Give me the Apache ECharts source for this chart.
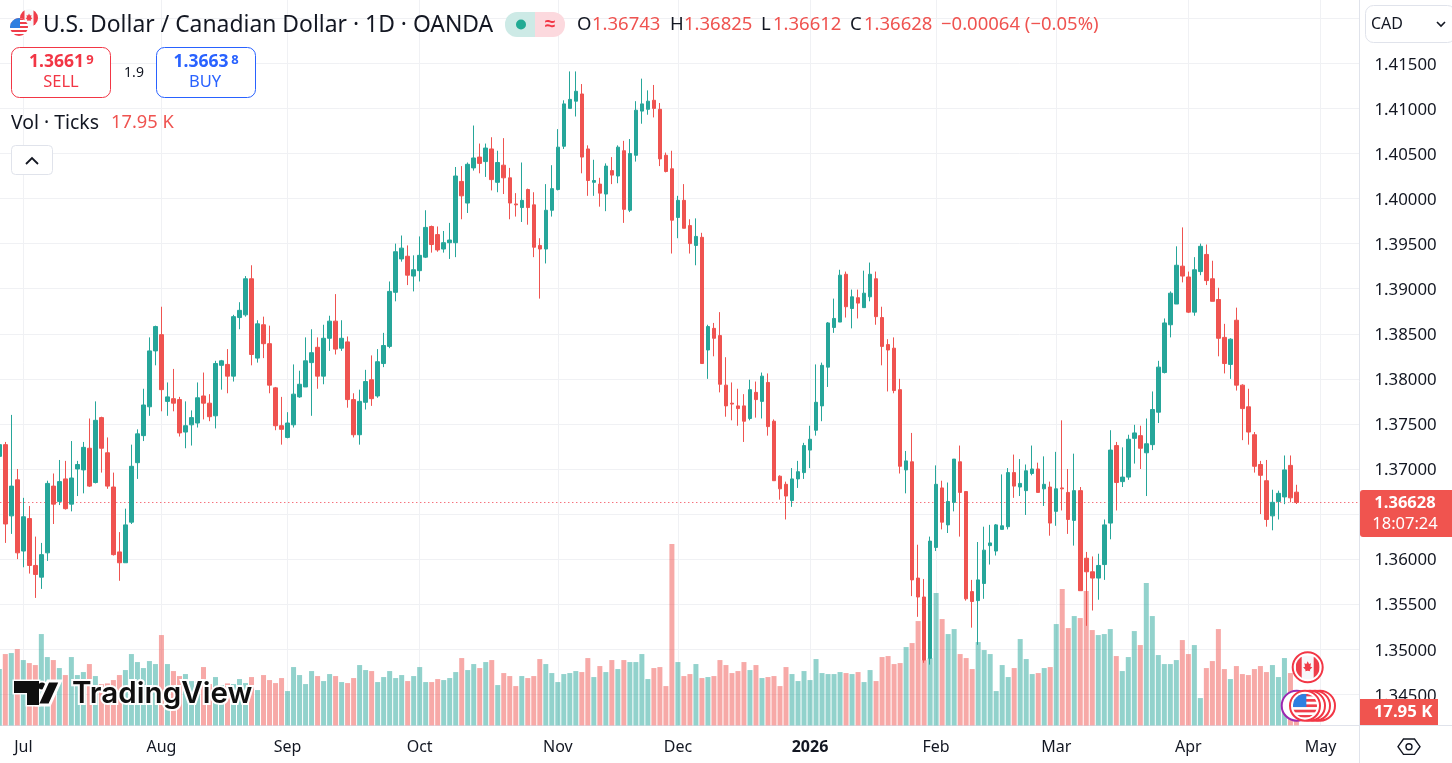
<!DOCTYPE html>
<html><head><meta charset="utf-8">
<style>html,body{margin:0;padding:0;background:#fff;overflow:hidden}#c{width:1452px;height:763px}</style>
<script src="https://cdn.jsdelivr.net/npm/echarts@6/dist/echarts.min.js"></script>
</head><body><div id="c"></div>
<script>
const opens=[1.3714,1.3727,1.3648,1.3688,1.3609,1.3645,1.3593,1.3580,1.3607,1.3681,
1.3664,1.3689,1.3661,1.3700,1.3699,1.3723,1.3685,1.3757,1.3718,1.3680,
1.3608,1.3596,1.3641,1.3707,1.3737,1.3769,1.3831,1.3849,1.3775,1.3778,
1.3777,1.3741,1.3749,1.3751,1.3781,1.3773,1.3759,1.3815,1.3816,1.3803,
1.3868,1.3871,1.3911,1.3823,1.3860,1.3839,1.3790,1.3748,1.3735,1.3749,
1.3780,1.3791,1.3818,1.3835,1.3803,1.3845,1.3864,1.3834,1.3841,1.3777,
1.3738,1.3774,1.3799,1.3781,1.3817,1.3836,1.3896,1.3933,1.3936,1.3914,
1.3920,1.3935,1.3969,1.3960,1.3944,1.3951,1.3951,1.4019,1.3995,1.4034,
1.4046,1.4041,1.4055,1.4018,1.4037,1.4023,1.3994,1.3990,1.4010,1.3993,
1.3948,1.3944,1.3987,1.4010,1.4058,1.4100,1.4108,1.4116,1.4055,1.4018,
1.4016,1.4005,1.4031,1.4025,1.4053,1.3987,1.4048,1.4097,1.4099,1.4109,
1.4099,1.4048,1.4033,1.3979,1.3998,1.3970,1.3948,1.3957,1.3832,1.3856,
1.3848,1.3793,1.3773,1.3770,1.3770,1.3756,1.3785,1.3775,1.3796,1.3753,
1.3692,1.3683,1.3665,1.3689,1.3696,1.3721,1.3743,1.3770,1.3813,1.3857,
1.3863,1.3916,1.3878,1.3890,1.3879,1.3891,1.3911,1.3868,1.3838,1.3834,
1.3788,1.3699,1.3708,1.3579,1.3558,1.3490,1.3613,1.3679,1.3638,1.3663,
1.3708,1.3675,1.3564,1.3554,1.3573,1.3615,1.3609,1.3633,1.3636,1.3696,
1.3680,1.3676,1.3695,1.3700,1.3678,1.3680,1.3653,1.3679,1.3674,1.3643,
1.3676,1.3601,1.3586,1.3579,1.3594,1.3640,1.3726,1.3686,1.3691,1.3734,
1.3737,1.3718,1.3727,1.3763,1.3807,1.3860,1.3883,1.3925,1.3913,1.3874,
1.3919,1.3938,1.3911,1.3888,1.3846,1.3816,1.3865,1.3793,1.3769,1.3738,
1.3705,1.3687,1.3648,1.3664,1.3669,1.3704,1.36743];
const closes=[1.3727,1.3639,1.3681,1.3607,1.3647,1.3593,1.3583,1.3605,1.3684,1.3661,
1.3686,1.3656,1.3690,1.3705,1.3724,1.3681,1.3754,1.3723,1.3681,1.3605,
1.3596,1.3638,1.3703,1.3739,1.3771,1.3831,1.3858,1.3788,1.3780,1.3773,
1.3740,1.3748,1.3757,1.3779,1.3773,1.3758,1.3817,1.3820,1.3803,1.3869,
1.3876,1.3911,1.3827,1.3861,1.3839,1.3793,1.3748,1.3744,1.3751,1.3783,
1.3794,1.3820,1.3829,1.3803,1.3845,1.3864,1.3833,1.3845,1.3777,1.3738,
1.3775,1.3797,1.3778,1.3819,1.3837,1.3897,1.3941,1.3945,1.3915,1.3921,
1.3937,1.3968,1.3949,1.3943,1.3951,1.3954,1.4025,1.4003,1.4038,1.4045,
1.4039,1.4056,1.4021,1.4040,1.4023,1.3995,1.3993,1.3998,1.3990,1.3946,
1.3944,1.3987,1.4011,1.4057,1.4105,1.4110,1.4119,1.4046,1.4020,1.4020,
1.4006,1.4036,1.4026,1.4057,1.3988,1.4050,1.4098,1.4105,1.4108,1.4100,
1.4044,1.4030,1.3976,1.3998,1.3967,1.3950,1.3958,1.3817,1.3858,1.3845,
1.3794,1.3770,1.3772,1.3767,1.3753,1.3788,1.3777,1.3803,1.3747,1.3687,
1.3678,1.3670,1.3689,1.3697,1.3726,1.3733,1.3774,1.3815,1.3862,1.3867,
1.3915,1.3880,1.3891,1.3884,1.3895,1.3916,1.3869,1.3836,1.3832,1.3787,
1.3703,1.3709,1.3577,1.3558,1.3488,1.3620,1.3683,1.3641,1.3664,1.3711,
1.3674,1.3556,1.3553,1.3577,1.3610,1.3618,1.3638,1.3637,1.3696,1.3681,
1.3684,1.3698,1.3700,1.3674,1.3683,1.3640,1.3678,1.3678,1.3644,1.3676,
1.3565,1.3586,1.3579,1.3593,1.3638,1.3721,1.3685,1.3691,1.3733,1.3740,
1.3723,1.3728,1.3766,1.3813,1.3862,1.3895,1.3926,1.3914,1.3874,1.3921,
1.3947,1.3909,1.3886,1.3845,1.3817,1.3844,1.3793,1.3767,1.3741,1.3703,
1.3693,1.3644,1.3663,1.3673,1.3699,1.3668,1.36628];
const lows=[1.3710,1.3618,1.3628,1.3600,1.3591,1.3584,1.3557,1.3567,1.3598,1.3639,
1.3660,1.3655,1.3653,1.3670,1.3673,1.3680,1.3684,1.3696,1.3678,1.3604,
1.3576,1.3596,1.3639,1.3689,1.3731,1.3759,1.3815,1.3764,1.3759,1.3764,
1.3736,1.3723,1.3726,1.3746,1.3755,1.3753,1.3745,1.3788,1.3784,1.3797,
1.3855,1.3869,1.3815,1.3818,1.3823,1.3784,1.3743,1.3727,1.3734,1.3746,
1.3779,1.3791,1.3759,1.3789,1.3794,1.3831,1.3827,1.3831,1.3768,1.3735,
1.3727,1.3766,1.3770,1.3779,1.3813,1.3834,1.3886,1.3930,1.3904,1.3897,
1.3908,1.3934,1.3940,1.3941,1.3940,1.3933,1.3935,1.3977,1.3984,1.4031,
1.4028,1.4024,1.4009,1.4007,1.4005,1.3977,1.3980,1.3974,1.3971,1.3935,
1.3889,1.3928,1.3980,1.4009,1.4055,1.4100,1.4091,1.4028,1.4003,1.4003,
1.3991,1.3986,1.4016,1.4017,1.3973,1.3985,1.4041,1.4083,1.4093,1.4090,
1.4036,1.4029,1.3939,1.3956,1.3967,1.3939,1.3926,1.3817,1.3800,1.3825,
1.3785,1.3758,1.3754,1.3748,1.3730,1.3754,1.3757,1.3756,1.3737,1.3687,
1.3666,1.3644,1.3658,1.3679,1.3689,1.3701,1.3737,1.3753,1.3791,1.3851,
1.3863,1.3868,1.3856,1.3867,1.3879,1.3886,1.3860,1.3815,1.3786,1.3784,
1.3695,1.3673,1.3559,1.3536,1.3485,1.3483,1.3609,1.3633,1.3629,1.3653,
1.3625,1.3554,1.3524,1.3505,1.3556,1.3594,1.3604,1.3633,1.3633,1.3668,
1.3670,1.3649,1.3693,1.3674,1.3659,1.3626,1.3637,1.3654,1.3628,1.3615,
1.3565,1.3526,1.3543,1.3555,1.3577,1.3622,1.3654,1.3680,1.3688,1.3706,
1.3700,1.3670,1.3721,1.3751,1.3806,1.3846,1.3883,1.3907,1.3873,1.3870,
1.3915,1.3904,1.3886,1.3825,1.3806,1.3800,1.3787,1.3732,1.3727,1.3696,
1.3650,1.3636,1.3632,1.3644,1.3661,1.3663,1.36612];
const highs=[1.3730,1.3730,1.3760,1.3700,1.3668,1.3659,1.3625,1.3618,1.3687,1.3695,
1.3710,1.3709,1.3731,1.3709,1.3730,1.3756,1.3775,1.3758,1.3735,1.3696,
1.3630,1.3656,1.3727,1.3744,1.3789,1.3846,1.3859,1.3880,1.3796,1.3811,
1.3780,1.3775,1.3765,1.3796,1.3807,1.3783,1.3820,1.3821,1.3833,1.3871,
1.3885,1.3914,1.3926,1.3865,1.3869,1.3859,1.3791,1.3780,1.3763,1.3816,
1.3809,1.3846,1.3855,1.3846,1.3860,1.3870,1.3894,1.3865,1.3847,1.3784,
1.3788,1.3810,1.3826,1.3833,1.3851,1.3908,1.3950,1.3959,1.3948,1.3937,
1.3958,1.3987,1.3970,1.3969,1.3964,1.3973,1.4035,1.4036,1.4040,1.4081,
1.4061,1.4061,1.4068,1.4053,1.4067,1.4034,1.4006,1.4040,1.4011,1.4007,
1.3956,1.4016,1.4037,1.4077,1.4109,1.4141,1.4141,1.4127,1.4059,1.4043,
1.4023,1.4039,1.4046,1.4059,1.4064,1.4066,1.4108,1.4133,1.4120,1.4126,
1.4106,1.4051,1.4053,1.4003,1.4016,1.3977,1.3978,1.3962,1.3860,1.3862,
1.3874,1.3824,1.3796,1.3789,1.3783,1.3799,1.3797,1.3807,1.3806,1.3755,
1.3693,1.3686,1.3701,1.3709,1.3729,1.3748,1.3816,1.3818,1.3863,1.3889,
1.3921,1.3919,1.3899,1.3899,1.3920,1.3929,1.3919,1.3880,1.3844,1.3846,
1.3800,1.3720,1.3740,1.3616,1.3578,1.3625,1.3704,1.3687,1.3685,1.3711,
1.3726,1.3675,1.3577,1.3619,1.3636,1.3638,1.3639,1.3694,1.3701,1.3716,
1.3711,1.3705,1.3726,1.3707,1.3714,1.3686,1.3719,1.3754,1.3700,1.3717,
1.3680,1.3608,1.3603,1.3606,1.3644,1.3743,1.3730,1.3724,1.3738,1.3749,
1.3748,1.3756,1.3786,1.3820,1.3867,1.3897,1.3947,1.3968,1.3919,1.3935,
1.3950,1.3949,1.3931,1.3901,1.3861,1.3845,1.3879,1.3794,1.3789,1.3741,
1.3709,1.3710,1.3677,1.3676,1.3715,1.3715,1.36825];
const volumesK=[84.5,107,108.5,114.5,98,93.5,90.5,137,102.5,98,
86,75.5,102.5,75.5,80,92,74,62,63,68,
75.5,83,107,95,86,96.5,92,135.5,92,81.5,
74,77,66.5,65.5,87.5,62,72.5,60.5,63,62,
69.5,63.5,72.5,53,75.5,68,63.5,71,51.5,87.5,
75.5,62,81.5,74,66.5,77,74,65,63.5,71,
90.5,83,81.5,65,72.5,81.5,71,75.5,66.5,74,
87.5,65,65,69.5,68,71,80,101,83,92,
86,95,98,60.5,78.5,74,59,74,71,74,
99.5,92,78.5,65,77,78.5,81.5,80,101,72.5,
89,80,98,84.5,98,95,95,107,69.5,86,
87.5,59,272,95,74,77,92,71,72.5,74,
98,90.5,78.5,81.5,95,83,90.5,71,72.5,74,
59,87.5,77,66.5,81.5,68,99.5,78.5,77,77,
80,78.5,77,80,65,83,66.5,102.5,104,92,
93.5,117.5,123.5,156.5,98,101,198.5,159.5,137,144.5,
107,101,84.5,125,113,107,51.5,90.5,72.5,86,
129.5,99.5,77,78.5,86,87.5,152,204.5,146,164,
161,201.5,143,135.5,137,144.5,104,81.5,102.5,141.5,
120.5,213.5,164,105.5,92,92,98,128,107,120.5,
41,86,96.5,144.5,84.5,69.5,89,77,75.5,84.5,
89,80,90.5,72.5,101,78.5,17.95];
const tickLabels={'2025-07-01':'Jul','2025-08-01':'Aug','2025-09-01':'Sep','2025-10-01':'Oct','2025-11-03':'Nov','2025-12-01':'Dec','2026-01-02':'2026','2026-02-02':'Feb','2026-03-02':'Mar','2026-04-01':'Apr','2026-05-01':'May'};
const lastPrice=1.36628;

const TOTAL_SLOTS=227, closedDays=['2025-12-25','2026-01-01'];
const categories=[];
for(let t=Date.UTC(2025,5,25);categories.length<TOTAL_SLOTS;t+=864e5){
  const d=new Date(t),s=d.toISOString().slice(0,10),w=d.getUTCDay();
  if(w!==0&&w!==6&&!closedDays.includes(s))categories.push(s);
}
const UP='#26a69a',DN='#ef5350',INK='#131722',GRID='#f0f1f4',LINE='#e0e3eb',FONT='"Noto Sans",sans-serif';
const candleData=opens.map((o,i)=>[o,closes[i],lows[i],highs[i]]);
const volData=volumesK.map((v,i)=>({value:v,itemStyle:{color:closes[i]<opens[i]?'rgba(239,83,80,0.5)':'rgba(38,166,154,0.5)'}}));

function flag(kind){
  const us="<svg xmlns='http://www.w3.org/2000/svg' viewBox='0 0 36 36'><defs><clipPath id='a'><circle cx='18' cy='18' r='18'/></clipPath></defs><g clip-path='url(#a)'><rect width='36' height='36' fill='#fff'/><rect y='0' width='36' height='4' fill='#ef3d4a'/><rect y='8' width='36' height='4' fill='#ef3d4a'/><rect y='16' width='36' height='4' fill='#ef3d4a'/><rect y='24' width='36' height='4' fill='#ef3d4a'/><rect y='32' width='36' height='4' fill='#ef3d4a'/><rect width='20' height='20' fill='#2e7fe0'/></g></svg>";
  const ca="<svg xmlns='http://www.w3.org/2000/svg' viewBox='0 0 36 36'><defs><clipPath id='b'><circle cx='18' cy='18' r='18'/></clipPath></defs><g clip-path='url(#b)'><rect width='36' height='36' fill='#f7f8fb'/><rect width='9' height='36' fill='#ef3d4a'/><rect x='27' width='9' height='36' fill='#ef3d4a'/><path d='M18 9l2 4 3-1-1 5 3 1-4 4 1 2-4-1-4 1 1-2-4-4 3-1-1-5 3 1z' fill='#ef3d4a'/></g></svg>";
  return 'data:image/svg+xml;utf8,'+encodeURIComponent(kind==='us'?us:ca);
}
const txt=(x,y,t,o={})=>({type:'text',z:100,x,y:y+1.5,style:Object.assign({text:t,fill:INK,font:'18.5px '+FONT,textVerticalAlign:'middle',textAlign:'left'},o)});
const box=(x,y,w,h,r,fill,stroke)=>({type:'rect',z:99,shape:{x,y,width:w,height:h,r},style:{fill:fill,stroke:stroke,lineWidth:stroke?1:0}});
const ring=(cx,cy,r,c)=>({type:'circle',z:100,shape:{cx,cy,r},style:{fill:'#fff',stroke:c,lineWidth:2}});
const img=(x,y,s,k,z=101)=>({type:'image',z,style:{image:flag(k),x,y,width:s,height:s}});

const chrome=[
 img(20,9,18,'ca'),
 {type:'circle',z:100,shape:{cx:19,cy:27,r:10},style:{fill:'#fff'}},
 img(10,18,18,'us'),
 txt(43,24,'U.S. Dollar / Canadian Dollar · 1D · OANDA',{font:'22.9px '+FONT,fill:INK}),
 box(505,12,32,25,[12,0,0,12],'#cdeae6'),
 box(535,12,30,25,[0,12,12,0],'#fcd9de'),
 {type:'circle',z:100,shape:{cx:521,cy:24.5,r:5},style:{fill:'#22ab94'}},
 txt(550,23,'≈',{font:'bold 19px '+FONT,fill:'#f23645',textAlign:'center'}),
 txt(577,23,'O'),txt(592,23,'1.36743',{fill:DN}),
 txt(670,23,'H'),txt(684,23,'1.36825',{fill:DN}),
 txt(761,23,'L'),txt(773,23,'1.36612',{fill:DN}),
 txt(850,23,'C'),txt(864,23,'1.36628',{fill:DN}),
 txt(941,23,'−0.00064 (−0.05%)',{fill:DN}),
 box(11.5,47.5,99,50,8,'#fff','#f23645'),
 txt(56.5,61,'1.3661',{font:'bold 17.5px '+FONT,fill:'#f23645',textAlign:'center'}),
 txt(90,59,'9',{font:'bold 13px '+FONT,fill:'#f23645',textAlign:'center'}),
 txt(61,81,'SELL',{font:'16.5px '+FONT,fill:'#f23645',textAlign:'center'}),
 txt(134,72,'1.9',{font:'14px '+FONT,textAlign:'center'}),
 box(156.5,47.5,99,50,8,'#fff','#2962ff'),
 txt(201,61,'1.3663',{font:'bold 17.5px '+FONT,fill:'#2962ff',textAlign:'center'}),
 txt(235,59,'8',{font:'bold 13px '+FONT,fill:'#2962ff',textAlign:'center'}),
 txt(205,81,'BUY',{font:'16.5px '+FONT,fill:'#2962ff',textAlign:'center'}),
 txt(11,121.5,'Vol · Ticks',{font:'19.4px '+FONT}),
 txt(111,121.5,'17.95 K',{font:'18.3px '+FONT,fill:DN}),
 box(11.5,145.5,41,29,4,'#fff','#e0e3eb'),
 {type:'polyline',z:100,shape:{points:[[26,164],[32,158],[38,164]]},style:{stroke:INK,lineWidth:1.8,fill:null}},
 {type:'polygon',z:100,shape:{points:[[14,681],[39,681],[39,705],[27,705],[27,693],[14,693]]},style:{fill:'#0f0f0f',stroke:'#fff',lineWidth:3}},
 {type:'circle',z:100,shape:{cx:42,cy:686,r:4.6},style:{fill:'#0f0f0f',stroke:'#fff',lineWidth:2}},
 {type:'polygon',z:100,shape:{points:[[48,681],[60.5,681],[49.5,705],[37,705]]},style:{fill:'#0f0f0f',stroke:'#fff',lineWidth:3}},
 {type:'polygon',z:100,shape:{points:[[14,681],[39,681],[39,705],[27,705],[27,693],[14,693]]},style:{fill:'#0f0f0f'}},
 txt(72,692.5,'TradingView',{font:'600 29.6px Inter,'+FONT,fill:'#0f0f0f',stroke:'#fff',lineWidth:4}),
 ring(1307.7,667.3,15,'#f23645'),
 img(1295.7,655.3,24,'ca'),
 ring(1296.7,705.7,15,'#9c27b0'),
 ring(1320,705.7,15,'#f23645'),ring(1315,705.7,15,'#f23645'),ring(1310,705.7,15,'#f23645'),ring(1305,705.7,15,'#f23645'),
 img(1293,693.7,24,'us'),
 {type:'line',z:97,shape:{x1:1359.5,y1:0,x2:1359.5,y2:763},style:{stroke:LINE,lineWidth:1}},
 {type:'line',z:97,shape:{x1:1359.5,y1:725.5,x2:1452,y2:725.5},style:{stroke:LINE,lineWidth:1}},
 box(1365.5,5.5,90,37,8,'#fff','#e0e3eb'),
 txt(1371,23,'CAD',{font:'16px '+FONT}),
 {type:'polyline',z:100,shape:{points:[[1437,22],[1441,26],[1445,22]]},style:{stroke:INK,lineWidth:1.6,fill:null}},
 box(1360,490,92,47,[3,0,0,3],'#f0544f'),
 txt(1405,502,'1.36628',{font:'bold 16.5px '+FONT,fill:'#fff',textAlign:'center'}),
 txt(1405,523,'18:07:24',{font:'16.5px '+FONT,fill:'#fff',textAlign:'center'}),
 box(1360,699,78,26,0,'#f0544f'),
 txt(1403,711,'17.95 K',{font:'bold 16.8px '+FONT,fill:'#fff',textAlign:'center'}),
 {type:'polygon',z:100,shape:{points:[[1398,746.7],[1403.5,739],[1414.5,739],[1420,746.7],[1414.5,754.4],[1403.5,754.4]]},style:{fill:'none',stroke:INK,lineWidth:1.4}},
 {type:'circle',z:100,shape:{cx:1409,cy:746.7,r:3},style:{fill:'none',stroke:INK,lineWidth:1.4}}
];

const chart=echarts.init(document.getElementById('c'),null,{renderer:'canvas'});
const isTick=(i,v)=>v in tickLabels;
chart.setOption({
 animation:false,backgroundColor:'#fff',
 grid:[
  {left:-3.7,width:1363.2,top:-26.83,height:721.2,containLabel:false,outerBoundsMode:'none'},
  {left:-3.7,width:1363.2,top:0,height:725.4,containLabel:false,outerBoundsMode:'none'}
 ],
 xAxis:[
  {type:'category',gridIndex:0,data:categories,boundaryGap:true,axisLine:{show:false},axisTick:{show:false},axisLabel:{show:false},splitLine:{show:false}},
  {type:'category',gridIndex:1,data:categories,boundaryGap:true,
   axisLine:{show:true,lineStyle:{color:LINE,width:1}},axisTick:{show:false},
   axisLabel:{show:true,interval:isTick,margin:14,color:INK,fontFamily:FONT,fontSize:16,hideOverlap:false,
     formatter:v=>{const t=tickLabels[v]||'';return t==='2026'?'{b|2026}':t;},rich:{b:{fontWeight:'bold',fontSize:16,color:INK,fontFamily:FONT}}},
   splitLine:{show:true,interval:isTick,alignWithLabel:true,lineStyle:{color:GRID,width:1}}}
 ],
 yAxis:[
  {type:'value',gridIndex:0,position:'right',min:1.345,max:1.425,interval:0.005,
   axisLine:{show:false},axisTick:{show:false},
   axisLabel:{show:true,margin:15,color:INK,fontFamily:FONT,fontSize:16.8,formatter:v=>'{p|'+v.toFixed(5)+'}',
     rich:{p:{fontFamily:FONT,fontSize:16.8,color:INK,padding:[3,0,0,0]}},showMinLabel:true,showMaxLabel:true},
   splitLine:{show:true,lineStyle:{color:GRID,width:1}}},
  {type:'value',gridIndex:1,min:0,max:1088,show:false,splitLine:{show:false}}
 ],
 series:[
  {name:'Volume',type:'bar',xAxisIndex:1,yAxisIndex:1,data:volData,barWidth:5,z:2,silent:true},
  {name:'USDCAD',type:'candlestick',xAxisIndex:0,yAxisIndex:0,data:candleData,barWidth:4,z:5,silent:true,
   itemStyle:{color:UP,color0:DN,borderColor:UP,borderColor0:DN,borderWidth:1}},
  {name:'Last price',type:'line',xAxisIndex:0,yAxisIndex:0,data:[],silent:true,z:4,
   markLine:{silent:true,symbol:'none',precision:5,label:{show:false},
     lineStyle:{color:'#f23645',type:[1,3],width:1,opacity:1},data:[{yAxis:lastPrice}]}}
 ],
 graphic:{elements:chrome}
});
</script></body></html>
